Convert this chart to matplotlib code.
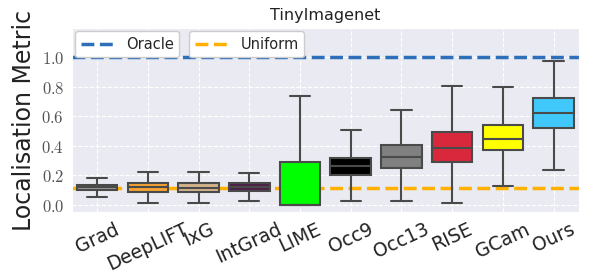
import matplotlib.pyplot as plt
import seaborn as sns

methods = ['Grad', 'DeepLIFT', 'IxG', 'IntGrad', 'LIME', 'Occ9', 'Occ13', 'RISE', 'GCam', 'Ours']
whislo = [0.055, 0.01, 0.01, 0.025, 0.0, 0.025, 0.025, 0.013, 0.128, 0.236]
q1 = [0.10, 0.086, 0.086, 0.09, 0.0, 0.20, 0.252, 0.288, 0.372, 0.52]
med = [0.12, 0.12, 0.115, 0.12, 0.0, 0.26, 0.326, 0.383, 0.444, 0.62]
q3 = [0.135, 0.147, 0.147, 0.147, 0.293, 0.32, 0.405, 0.495, 0.54, 0.723]
whishi = [0.18, 0.22, 0.22, 0.214, 0.736, 0.51, 0.64, 0.806, 0.80, 0.975]
colors = ['#9a9a9a', '#f7a233', '#d2b48c', '#4d2146', '#00ff00', '#000000',
          '#808080', '#d9283c', '#ffff00', '#40c8fa']
oracle = 1.0
uniform = 0.11

sns.set_style('darkgrid', {'grid.linestyle': '--'})
plt.rcParams['mathtext.fontset'] = 'cm'

fig, ax = plt.subplots(figsize=(5.98, 2.79), dpi=100)

ax.axhline(oracle, color='#2e6fba', lw=2.5, ls='--', label='Oracle', zorder=1)
ax.axhline(uniform, color='#ffb000', lw=2.5, ls='--', label='Uniform', zorder=1)

stats = []
for i, m in enumerate(methods):
    stats.append({'label': m, 'whislo': whislo[i], 'q1': q1[i], 'med': med[i],
                  'q3': q3[i], 'whishi': whishi[i], 'fliers': []})

edge = '#4a4a4a'
bp = ax.bxp(stats, positions=range(len(methods)), widths=0.8, patch_artist=True,
            showfliers=False,
            boxprops=dict(edgecolor=edge, linewidth=1.5),
            medianprops=dict(color=edge, linewidth=1.5),
            whiskerprops=dict(color=edge, linewidth=1.5),
            capprops=dict(color=edge, linewidth=1.5),
            zorder=3)
for patch, c in zip(bp['boxes'], colors):
    patch.set_facecolor(c)

ax.set_xlim(-0.5, len(methods) - 0.5)
ax.set_ylim(-0.05, 1.2)
ax.set_yticks([0.0, 0.2, 0.4, 0.6, 0.8, 1.0])
ax.set_yticklabels(['$%.1f$' % v for v in [0.0, 0.2, 0.4, 0.6, 0.8, 1.0]],
                   fontsize=12, color='#555555')
ax.set_xticks(range(len(methods)))
ax.set_xticklabels(methods, rotation=25, fontsize=13.5, color='#222222')
ax.tick_params(axis='x', pad=2)
ax.tick_params(axis='y', pad=2)
ax.set_ylabel('Localisation Metric', fontsize=17, color='#222222')
ax.set_title('TinyImagenet', fontsize=11.5, color='#222222')

h, l = ax.get_legend_handles_labels()
leg_kw = dict(loc='upper left', fontsize=10.5, facecolor='white', framealpha=1,
              handlelength=2.2, handletextpad=0.9, borderaxespad=0.2)
leg1 = ax.legend([h[0]], [l[0]], bbox_to_anchor=(0.0, 1.0), **leg_kw)
ax.add_artist(leg1)
ax.legend([h[1]], [l[1]], bbox_to_anchor=(0.226, 1.0), **leg_kw)

fig.subplots_adjust(left=0.12, right=0.968, top=0.9, bottom=0.24)
plt.savefig('out.png', dpi=100)
